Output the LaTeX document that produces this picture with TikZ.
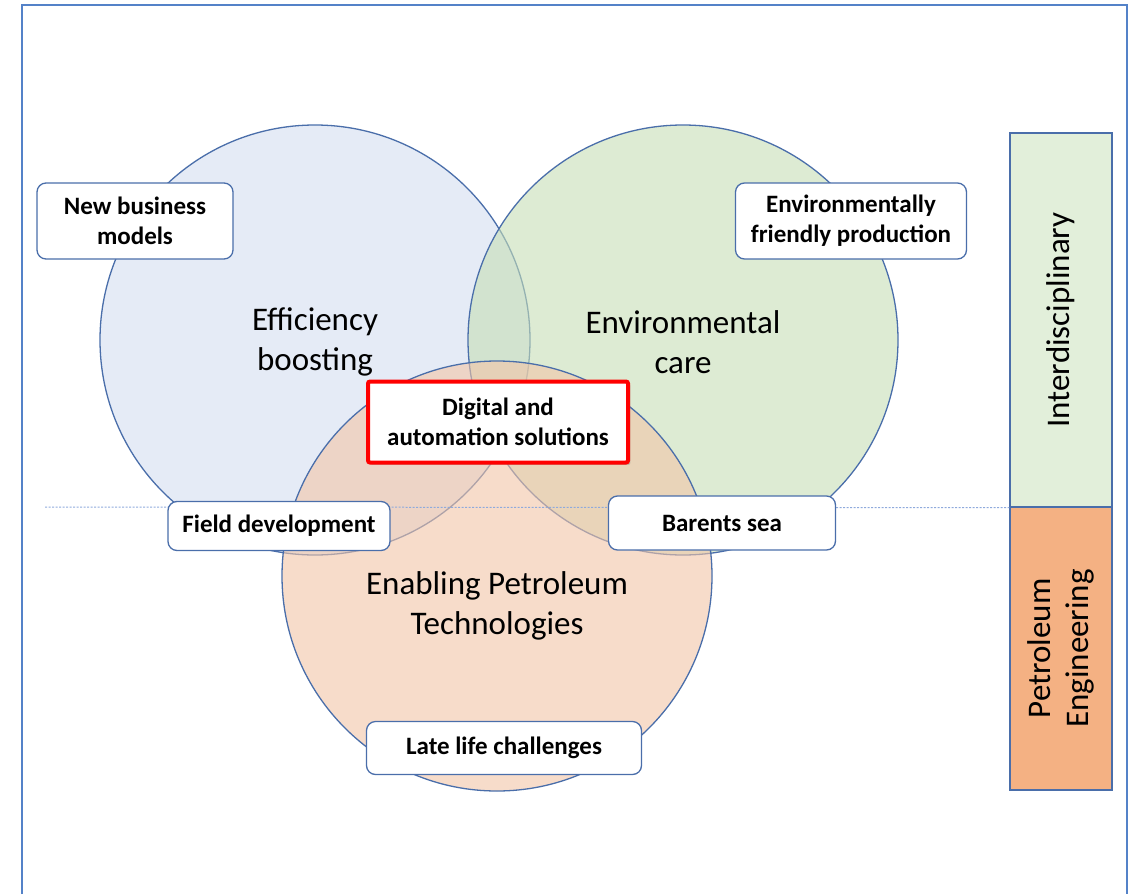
\documentclass[tikz,border=0pt]{standalone}
\usepackage{fontspec}
\setmainfont{Carlito}
\usetikzlibrary{shadows}
\definecolor{edgeblue}{RGB}{74,110,170}
\definecolor{effblue}{RGB}{212,222,240}
\definecolor{envgreen}{RGB}{198,222,182}
\definecolor{eptorange}{RGB}{242,197,167}
\definecolor{bargreen}{RGB}{226,239,218}
\definecolor{barorange}{RGB}{244,177,131}
\definecolor{framebl}{RGB}{84,130,200}
\definecolor{guidebl}{RGB}{143,170,220}
\begin{document}
\begin{tikzpicture}[x=1pt,y=-1pt,
  venn/.style={circle,draw=edgeblue,line width=1.3pt,fill opacity=0.6,minimum size=430pt,inner sep=0pt},
  big/.style={align=center,font=\fontsize{33}{40}\selectfont},
  tag/.style={rectangle,rounded corners=9pt,draw=edgeblue,line width=1.3pt,fill=white,align=center,inner sep=2pt,font=\fontsize{25}{30}\selectfont\bfseries},
  hilite/.style={tag,draw=red,line width=4pt,rounded corners=2pt,drop shadow={opacity=0.35}},
  bar/.style={rectangle,draw=edgeblue,line width=1.3pt,minimum width=102pt},
  side/.style={rotate=90,align=center,font=\fontsize{33}{38}\selectfont}]
  \useasboundingbox (0,0) rectangle (1132,894);
  % page frame
  \draw[framebl,line width=1.5pt] (22,894) -- (22,5) -- (1127,5) -- (1127,894);
  % the three circles
  \node[venn,fill=effblue] (eff) at (315,340) {};
  \node[venn,fill=envgreen] (env) at (683,340) {};
  \node[venn,fill=eptorange] (ept) at (497,576) {};
  \node[big] (efflab) at (315,342) {Efficiency\\boosting};
  \node[big] (envlab) at (683,342) {Environmental\\care};
  \node[big] (eptlab) at (497,606) {Enabling Petroleum\\Technologies};
  % side bars
  \node[bar,fill=bargreen,minimum height=374pt] (inter) at (1061,320) {};
  \node[bar,fill=barorange,minimum height=283pt] (petro) at (1061,648.5) {};
  \node[side] at (inter) {Interdisciplinary};
  \node[side] at (petro) {Petroleum\\Engineering};
  % split line
  \coordinate (gl) at (45,507);
  \draw[guidebl,dash pattern=on 2pt off 1.5pt,line width=1pt] (gl) -- (inter.south west);
  % topic boxes
  \node[tag,minimum width=196pt,minimum height=76pt] (newbiz) at (135,221) {New business\\models};
  \node[tag,minimum width=231pt,minimum height=76pt] (envprod) at (851,221) {Environmentally\\friendly production};
  \node[tag,minimum width=222pt,minimum height=49pt] (field) at (279,526) {Field development};
  \node[tag,minimum width=227pt,minimum height=54pt] (barents) at (722,523) {Barents sea};
  \node[tag,minimum width=275pt,minimum height=53pt] (late) at (504,748) {Late life challenges};
  \node[hilite,minimum width=260pt,minimum height=81pt] (digital) at (498,422) {Digital and\\automation solutions};
\end{tikzpicture}
\end{document}
